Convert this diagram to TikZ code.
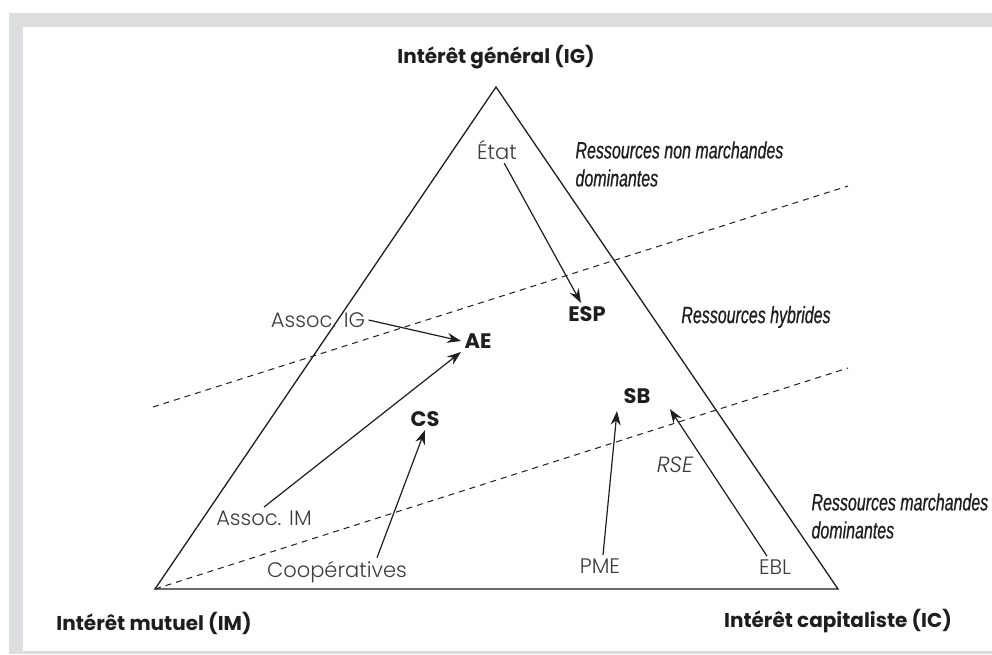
\documentclass[tikz,border=0pt]{standalone}
\usepackage{fontspec}
\setmainfont{Poppins}
\newfontfamily\thinfont{Poppins Light}
\newfontfamily\resfont[FakeStretch=0.68,FakeBold=0.6]{Liberation Sans}
\usepackage{xcolor}
\usetikzlibrary{arrows.meta}

\definecolor{cadre}{HTML}{DCDDDE}
\definecolor{encre}{HTML}{1E1E1E}
\definecolor{gristexte}{HTML}{3C3C3C}

\tikzset{
  pole/.style={font=\fontsize{20}{24}\selectfont\bfseries, text=encre},
  acteur/.style={font=\fontsize{21}{24}\selectfont\bfseries, text=encre},
  origine/.style={font=\thinfont\fontsize{21}{24}\selectfont, text=gristexte},
  ressource/.style={font=\resfont\itshape\fontsize{23.5}{28}\selectfont, text=encre, align=left},
  fleche/.style={-{Stealth[length=14pt,width=10pt]}, line width=1.2pt, encre},
  zone/.style={dashed, dash pattern=on 6pt off 5pt, line width=1pt, encre}
}

\begin{document}
\begin{tikzpicture}[x=1pt,y=-1pt]
    \useasboundingbox (0,0) rectangle (992,654);
    \fill[cadre] (9,13) rectangle (992,654);
    \fill[white] (23,27) rectangle (992,651);

    % sommets du triangle
    \coordinate (ig) at (496,87);
    \coordinate (im) at (155,589);
    \coordinate (ic) at (838,589);
    \draw[line width=1.3pt, encre, line join=miter] (im) -- (ig) -- (ic) -- cycle;

    % limites des ressources
    \coordinate (haut1) at (153,407);
    \coordinate (haut2) at (848,186);
    \coordinate (bas2) at (848,368);
    \draw[zone] (haut1) -- (haut2);
    \draw[zone] (im) -- (bas2);

    \node[pole] (iglab) at (496,57) {Intérêt général (IG)};
    \node[pole] (imlab) at (154,623) {Intérêt mutuel (IM)};
    \node[pole] (iclab) at (838,621) {Intérêt capitaliste (IC)};

    \node[origine] (etat) at (497,150) {État};
    \node[origine] (associg) at (318,320) {Assoc. IG};
    \node[origine] (associm) at (264,518) {Assoc. IM};
    \node[origine] (coop) at (337,572) {Coopératives};
    \node[origine] (pme) at (600,566) {PME};
    \node[origine] (ebl) at (775,567) {EBL};
    \node[origine, font=\thinfont\itshape\fontsize{22}{24}\selectfont] (rse) at (675,465) {RSE};

    \node[acteur] (esp) at (587,314) {ESP};
    \node[acteur] (ae) at (478,341) {AE};
    \node[acteur] (cs) at (425,419) {CS};
    \node[acteur] (sb) at (637,396) {SB};

    \node[ressource, anchor=west] (resnm) at (572,164) {Ressources non marchandes\\dominantes};
    \node[ressource] (reshyb) at (756,317) {Ressources hybrides};
    \node[ressource, anchor=west] (resm) at (808,516) {Ressources marchandes\\dominantes};

    \draw[fleche] (etat) -- ([xshift=-6pt]esp.north);
    \draw[fleche] (associg.east) -- (ae.west);
    \draw[fleche] (associm.north) -- (ae.south west);
    \draw[fleche] ([xshift=40pt]coop.north) -- (cs.south);
    \draw[fleche] ([xshift=3pt]pme.north) -- ([xshift=-20pt,yshift=-4pt]sb.south);
    \draw[fleche] ([xshift=-8pt]ebl.north) -- ([xshift=16pt,yshift=-2pt]sb.south east);
\end{tikzpicture}
\end{document}
